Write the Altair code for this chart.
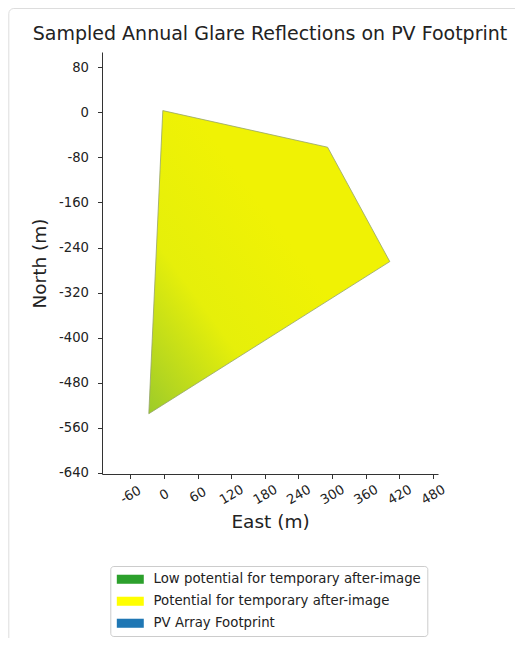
import altair as alt
import pandas as pd

# ---- data ----
footprint_east = [-2, 292, 403, -27, -2]
footprint_north = [3, -62, -265, -535, 3]

legend_labels = [
    "Low potential for temporary after-image",
    "Potential for temporary after-image",
    "PV Array Footprint",
]
legend_colors = ["#2ca02c", "#ffff00", "#1f77b4"]

x_ticks = [-60, 0, 60, 120, 180, 240, 300, 360, 420, 480]
y_ticks = [80, 0, -80, -160, -240, -320, -400, -480, -560, -640]
x_domain = [-110.5, 489]
y_domain = [-642, 107]

FONT = "DejaVu Sans"
TEXT = "#222222"

poly = pd.DataFrame({
    "east": footprint_east,
    "north": footprint_north,
    "order": list(range(len(footprint_east))),
})
leg = pd.DataFrame({"category": legend_labels})

xscale = alt.Scale(domain=x_domain, nice=False, zero=False)
yscale = alt.Scale(domain=y_domain, nice=False, zero=False)

xaxis = alt.Axis(
    values=x_ticks, title="East (m)", grid=False,
    labelAngle=330, labelAlign="center", labelBaseline="middle",
    labelPadding=16, tickSize=4.5, labelFlush=False, labelOverlap=False,
    titlePadding=6, labelExpr="'' + datum.value",
)
yaxis = alt.Axis(
    values=y_ticks, title="North (m)", grid=False,
    labelPadding=9, tickSize=4.5, labelFlush=False, labelOverlap=False,
    titlePadding=9, labelExpr="'' + datum.value",
)

gradient = alt.LinearGradient(
    gradient="linear",
    stops=[
        alt.GradientStop(color="#f0f204", offset=0),
        alt.GradientStop(color="#e6ef0a", offset=0.5),
        alt.GradientStop(color="#b4d620", offset=0.85),
        alt.GradientStop(color="#9ccb2a", offset=1),
    ],
    x1=0.6, y1=0.45, x2=0.0, y2=1.0,
)

frame = alt.Chart(pd.DataFrame({"k": [0]})).mark_rect(
    filled=False, stroke="#dddddd", strokeWidth=1, cornerRadius=5
).encode(
    x=alt.value(-93.2), x2=alt.value(470),
    y=alt.value(-43.5), y2=alt.value(620),
)

legend_layer = alt.Chart(leg).mark_square(size=4, opacity=1).encode(
    x=alt.value(150),
    y=alt.value(200),
    color=alt.Color(
        "category:N",
        scale=alt.Scale(domain=legend_labels, range=legend_colors),
        legend=alt.Legend(
            title=None, orient="none", legendX=8.3, legendY=514,
            symbolType="M-1,-0.67H3V0.67H-1Z", symbolSize=182,
            symbolStrokeWidth=0, symbolOpacity=1,
            labelFont=FONT, labelFontSize=13.3, labelColor=TEXT,
            labelOffset=23, rowPadding=8, padding=6.25,
            strokeColor="#cccccc", cornerRadius=3, fillColor="white",
            labelLimit=400,
        ),
    ),
)

polygon = alt.Chart(poly).mark_line(
    fill=gradient, stroke="#94a36a", strokeWidth=0.8, interpolate="linear"
).encode(
    x=alt.X("east:Q", scale=xscale, axis=xaxis),
    y=alt.Y("north:Q", scale=yscale, axis=yaxis),
    order="order:Q",
)

chart = alt.layer(frame, legend_layer, polygon).properties(
    width=336,
    height=422,
    title=alt.TitleParams(
        "Sampled Annual Glare Reflections on PV Footprint",
        font=FONT, fontSize=19, fontWeight="normal", color=TEXT,
        anchor="middle", frame="group", baseline="alphabetic", offset=-51,
    ),
    padding={"left": 94, "top": 44, "right": 77, "bottom": 164},
    autosize=alt.AutoSizeParams(type="none"),
).configure_view(stroke=None).configure_axis(
    labelFont=FONT, titleFont=FONT, labelFontSize=13.2, titleFontSize=18.5,
    labelColor=TEXT, titleColor=TEXT, titleFontWeight="normal",
    domainColor="#333333", tickColor="#333333", domainWidth=1, tickWidth=1,
)

chart.save("out.html", embed_options={"renderer": "svg", "actions": False})
